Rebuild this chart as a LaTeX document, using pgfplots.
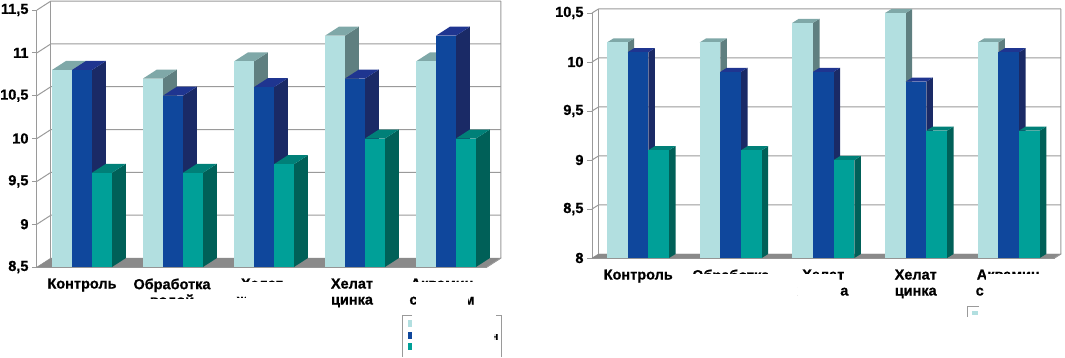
\documentclass[border=0pt]{standalone}
\usepackage{pgfplots}
\pgfplotsset{compat=1.18}
\usepackage{fontspec}
\setmainfont{Liberation Sans}
\newfontfamily\hv[FakeBold=0.8]{Liberation Sans Bold}
\definecolor{lf}{HTML}{B2DFE0}\definecolor{lt}{HTML}{7FA8A8}\definecolor{ls}{HTML}{5F7F80}
\definecolor{bf}{HTML}{0F479C}\definecolor{bt}{HTML}{1F3590}\definecolor{bs}{HTML}{1A2A66}
\definecolor{tf}{HTML}{00A098}\definecolor{tt}{HTML}{008078}\definecolor{ts}{HTML}{006058}
\definecolor{wl}{HTML}{9A9A9A}\definecolor{fl}{HTML}{8A8A8A}
% one 3D bar: category, slot, value, front/top/side colours
\newcommand{\onebar}[6]{%
 \pgfmathsetmacro\xa{#1*\cm+\bs+#2*\bw}\pgfmathsetmacro\xb{\xa+\bw}%
 \pgfmathsetmacro\xc{\xb+\ddx}\pgfmathsetmacro\xd{\xa+\ddx}%
 \pgfmathsetmacro\yt{#3+\ddy}\pgfmathsetmacro\yb{\ymn+\ddy}%
 \edef\tmp{\noexpand\addplot[fill=#6,draw=none,forget plot] coordinates {(\xb,\ymn)(\xc,\yb)(\xc,\yt)(\xb,#3)} --cycle;
  \noexpand\addplot[fill=#5,draw=none,forget plot] coordinates {(\xa,#3)(\xb,#3)(\xc,\yt)(\xd,\yt)} --cycle;
  \noexpand\addplot[fill=#4,draw=none,forget plot] coordinates {(\xa,\ymn)(\xb,\ymn)(\xb,#3)(\xa,#3)} --cycle;}\tmp}
\newcommand{\cat}[4]{\onebar{#1}{0}{#2}{lf}{lt}{ls}\onebar{#1}{1}{#3}{bf}{bt}{bs}\onebar{#1}{2}{#4}{tf}{tt}{ts}}
\newcommand{\wall}[1]{%
 \pgfmathsetmacro\yt{#1+\ddy}\pgfmathsetmacro\xe{5+\ddx}%
 \edef\tmp{\noexpand\addplot[wl,line width=1pt,forget plot] coordinates {(0,#1)(\ddx,\yt)(\xe,\yt)};}\tmp}
\newcommand{\floorwall}{%
 \pgfmathsetmacro\yb{\ymn+\ddy}\pgfmathsetmacro\ye{\ymx+\ddy}\pgfmathsetmacro\xe{5+\ddx}%
 \edef\tmp{\noexpand\addplot[fl,fill=fl,forget plot] coordinates {(0,\ymn)(5,\ymn)(\xe,\yb)(\ddx,\yb)} --cycle;
 \noexpand\addplot[wl,line width=1pt,forget plot] coordinates {(\ddx,\yb)(\ddx,\ye)};
 \noexpand\addplot[wl,line width=1pt,forget plot] coordinates {(5,\ymn)(\xe,\yb)(\xe,\ye)};}\tmp}
\newcommand{\mask}[4]{\fill[white] (#1pt,357pt-#2pt) rectangle (#3pt,357pt-#4pt);}
\newcommand{\tl}[1]{\mbox{\hv #1}}
\pgfplotsset{chart/.style={
  scale only axis, anchor=south west, clip=false,
  xmin=0,xmax=5,
  axis lines=left, axis line style={-,wl,line width=1pt},
  tick style={wl,line width=.8pt},
  xtick={0.5,1.5,2.5,3.5,4.5},
  major x tick style={draw=none},
  extra x ticks={0,1,2,3,4,5}, extra x tick labels={},
  extra x tick style={major tick length=5pt,tick style={wl,line width=.8pt,draw=wl},xticklabel=\empty},
  tick align=outside, major tick length=5pt,
  x tick label style={font=\hv\fontsize{14.5}{16}\selectfont,align=center,anchor=north},
  y tick label style={font=\hv\fontsize{14.5}{16}\selectfont},
  xticklabels={Контроль,Обработка\\водой,Хелат\\железа,Хелат\\цинка,Аквамин\\с цинком},
}}
\begin{document}
\begin{tikzpicture}[x=1pt,y=1pt]
\path[use as bounding box] (0pt,0pt) rectangle (1065pt,357pt);
\begin{axis}[chart,at={(37pt,90pt)},width=450pt,height=257pt,
  ymin=8.5,ymax=11.5,ytick={8.5,9,9.5,10,10.5,11,11.5},
  yticklabels={\tl{8,5},\tl{9},\tl{9,5},\tl{10},\tl{10,5},\tl{11},\tl{11,5}},
  x tick label style={yshift=-3pt}]
\def\cm{1.0111}\def\ddx{0.155}\def\ddy{0.105}\def\bs{0.1667}\def\bw{0.2222}\def\ymn{8.5}\def\ymx{11.5}
\floorwall
\wall{9}\wall{9.5}\wall{10}\wall{10.5}\wall{11}\wall{11.5}
\cat{0}{10.8}{10.8}{9.6}
\cat{1}{10.7}{10.5}{9.6}
\cat{2}{10.9}{10.6}{9.7}
\cat{3}{11.2}{10.7}{10}
\cat{4}{10.9}{11.2}{10}
\end{axis}
\begin{axis}[chart,at={(592pt,99pt)},width=462.5pt,height=245pt,
  ymin=8,ymax=10.5,ytick={8,8.5,9,9.5,10,10.5},
  yticklabels={\tl{8},\tl{8,5},\tl{9},\tl{9,5},\tl{10},\tl{10,5}},
  x tick label style={yshift=-3pt}]
\def\cm{1.002}\def\ddx{0.07}\def\ddy{0.041}\def\bs{0.162}\def\bw{0.2237}\def\ymn{8}\def\ymx{10.5}
\floorwall
\wall{8.5}\wall{9}\wall{9.5}\wall{10}\wall{10.5}
\cat{0}{10.2}{10.1}{9.1}
\cat{1}{10.2}{9.9}{9.1}
\cat{2}{10.4}{9.9}{9}
\cat{3}{10.5}{9.8}{9.3}
\cat{4}{10.2}{10.1}{9.3}
\end{axis}
% white patches that hide parts of the labels and legends in the reference
\mask{135}{299}{205}{312}
\mask{232}{282}{295}{295}\mask{246}{295}{295}{312}\mask{232}{298}{246}{312}
\mask{405}{282}{480}{293}\mask{416}{293}{468}{312}
\mask{685}{273.5}{775}{305}
\mask{798}{273.5}{838}{305}\mask{838}{282}{840}{300}
\mask{986}{273.5}{1050}{305}\mask{984}{282}{992}{305}
% legend remnants, left
\draw[wl,line width=.8pt] (412pt,357pt-315pt) -- (402pt,357pt-315pt) -- (402pt,0pt);
\draw[wl,line width=.8pt] (496pt,357pt-315pt) -- (501pt,357pt-315pt) -- (501pt,0pt);
\fill[lf] (408pt,357pt-320pt) rectangle (412pt,357pt-327pt);
\fill[bf] (408pt,357pt-332pt) rectangle (412pt,357pt-339pt);
\fill[tf] (408pt,357pt-343pt) rectangle (412pt,357pt-350pt);
\node[font=\hv\fontsize{11}{12}\selectfont,inner sep=0pt] at (495pt,357pt-337pt) {н};
\mask{490}{330}{493.5}{345}
% legend remnants, right
\draw[wl,line width=.8pt] (979pt,357pt-306pt) -- (967pt,357pt-306pt) -- (967pt,357pt-317pt);
\fill[lf] (972pt,357pt-311pt) rectangle (978pt,357pt-315pt);
\end{tikzpicture}
\end{document}
